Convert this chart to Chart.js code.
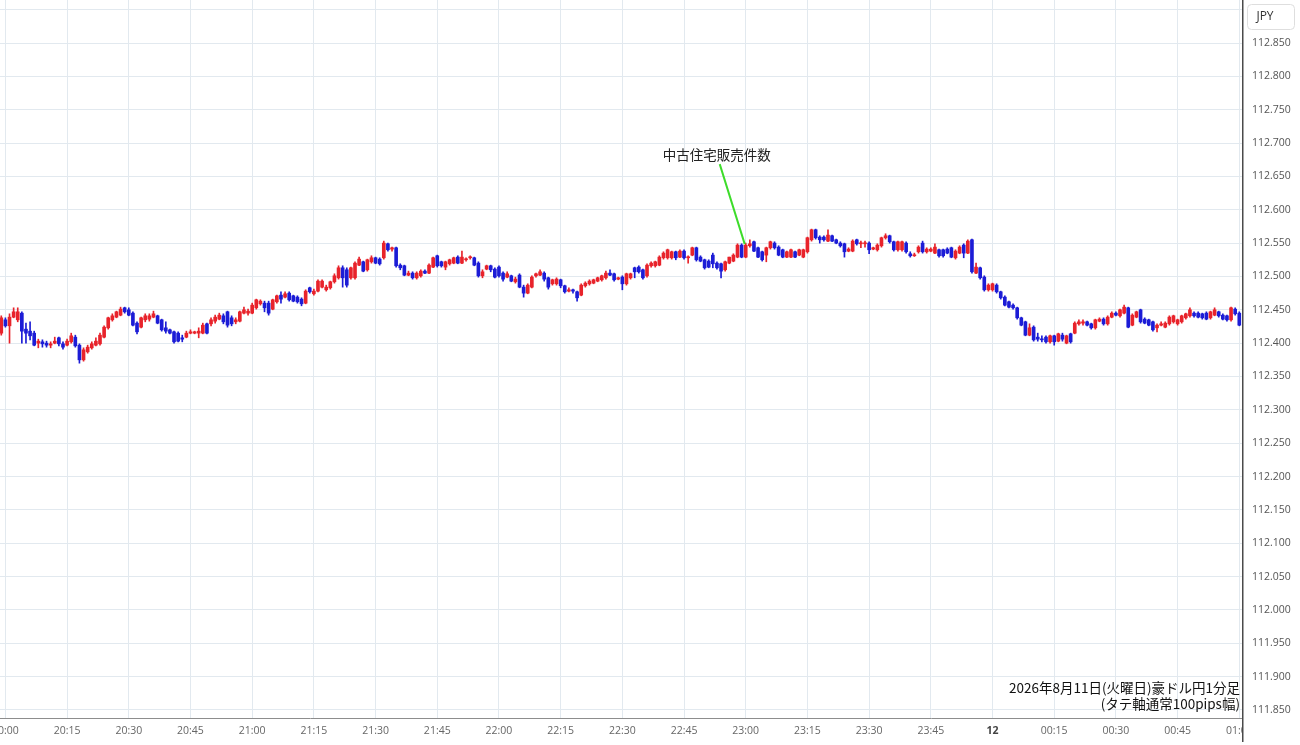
<!DOCTYPE html>
<html><head><meta charset="utf-8">
<script src="https://cdn.jsdelivr.net/npm/chart.js@4.4.0/dist/chart.umd.min.js"></script>
<style>html,body{margin:0;padding:0;background:#fff;overflow:hidden}#wrap{width:1300px;height:745px;position:relative}</style>
</head><body><div id="wrap"><canvas id="c" width="1300" height="745"></canvas></div>
<script>
const chartTitle = '2026年8月11日(火曜日)豪ドル円1分足';
const chartSubtitle = '(タテ軸通常100pips幅)';
const currencyLabel = 'JPY';
const eventLabel = '中古住宅販売件数';
const eventMinute = 180;      // 23:00
const firstMinute = -1;       // first candle = 19:59 (minutes from 20:00)

const timeTickMinutes = [0,15,30,45,60,75,90,105,120,135,150,165,180,195,210,225,240,255,270,285,300];
const timeTickLabels = ['20:00','20:15','20:30','20:45','21:00','21:15','21:30','21:45','22:00','22:15','22:30','22:45','23:00','23:15','23:30','23:45','12','00:15','00:30','00:45','01:00'];
const priceTicks = [112.900,112.850,112.800,112.750,112.700,112.650,112.600,112.550,112.500,112.450,112.400,112.350,112.300,112.250,112.200,112.150,112.100,112.050,112.000,111.950,111.900,111.850];

const openPrice = [
112.415,112.435,112.426,112.439,112.435,112.445,112.421,112.418,112.415,112.400,112.402,
112.400,112.397,112.400,112.408,112.399,112.397,112.402,112.409,112.397,112.375,
112.387,112.393,112.397,112.399,112.409,112.423,112.435,112.439,112.442,112.453,
112.450,112.445,112.430,112.424,112.435,112.436,112.439,112.441,112.435,112.423,
112.420,112.417,112.415,112.408,112.409,112.415,112.415,112.415,112.415,112.429,
112.429,112.433,112.436,112.441,112.447,112.438,112.432,112.433,112.445,112.445,
112.445,112.453,112.459,112.460,112.460,112.451,112.462,112.472,112.469,112.475,
112.471,112.469,112.466,112.460,112.483,112.474,112.478,112.484,112.480,112.483,
112.492,112.498,112.513,112.510,112.498,112.498,112.517,112.522,112.510,112.522,
112.528,112.526,112.528,112.549,112.541,112.543,112.517,112.516,112.502,112.505,
112.498,112.501,112.508,112.505,112.514,112.531,112.522,112.514,112.519,112.520,
112.529,112.520,112.525,112.528,112.528,112.520,112.501,112.511,112.516,112.511,
112.514,112.505,112.499,112.501,112.492,112.502,112.484,112.475,112.484,112.501,
112.502,112.505,112.498,112.489,112.489,112.495,112.486,112.478,112.480,112.477,
112.472,112.486,112.489,112.490,112.493,112.495,112.498,112.505,112.504,112.496,
112.499,112.489,112.498,112.513,112.514,112.510,112.501,112.516,112.516,112.517,
112.528,112.528,112.528,112.537,112.529,112.538,112.528,112.532,112.543,112.529,
112.525,112.523,112.532,112.520,112.519,112.510,112.520,112.523,112.529,112.547,
112.529,112.546,112.552,112.543,112.537,112.532,112.543,112.550,112.544,112.540,
112.529,112.529,112.537,112.532,112.529,112.537,112.555,112.570,112.559,112.559,
112.553,112.561,112.555,112.550,112.549,112.538,112.538,112.555,112.549,112.549,
112.550,112.541,112.540,112.546,112.558,112.561,112.552,112.540,112.540,112.550,
112.534,112.531,112.537,112.550,112.537,112.538,112.535,112.540,112.540,112.541,
112.543,112.528,112.535,112.547,112.535,112.555,112.505,112.513,112.499,112.480,
112.480,112.487,112.477,112.469,112.462,112.457,112.453,112.438,112.432,112.412,
112.424,112.409,112.406,112.409,112.402,112.411,112.403,112.412,112.400,112.414,
112.415,112.429,112.430,112.432,112.429,112.423,112.433,112.436,112.429,112.439,
112.445,112.441,112.445,112.453,112.427,112.439,112.450,112.436,112.435,112.432,
112.423,112.427,112.424,112.429,112.432,112.429,112.432,112.438,112.441,112.445,
112.445,112.444,112.445,112.438,112.442,112.447,112.442,112.441,112.435,112.451,
112.445];

const highPrice = [
112.441,112.438,112.444,112.453,112.453,112.447,112.430,112.432,112.418,112.406,112.405,
112.403,112.402,112.409,112.409,112.402,112.406,112.415,112.412,112.399,112.393,
112.397,112.402,112.408,112.415,112.426,112.439,112.444,112.448,112.454,112.454,
112.453,112.447,112.432,112.439,112.444,112.444,112.448,112.442,112.436,112.432,
112.421,112.418,112.417,112.412,112.418,112.420,112.418,112.423,112.430,112.430,
112.438,112.442,112.445,112.444,112.448,112.441,112.438,112.448,112.454,112.451,
112.460,112.466,112.465,112.463,112.463,112.466,112.472,112.477,112.477,112.477,
112.472,112.471,112.468,112.480,112.484,112.481,112.495,112.495,112.487,112.493,
112.504,112.516,112.516,112.513,112.514,112.522,112.529,112.523,112.526,112.531,
112.529,112.528,112.553,112.550,112.544,112.544,112.519,112.517,112.508,112.507,
112.507,112.510,112.510,112.519,112.529,112.532,112.523,112.523,112.526,112.529,
112.531,112.538,112.528,112.531,112.529,112.522,112.510,112.517,112.517,112.513,
112.516,112.507,112.507,112.502,112.499,112.504,112.487,112.489,112.501,112.505,
112.510,112.507,112.499,112.496,112.498,112.496,112.487,112.483,112.481,112.478,
112.489,112.492,112.495,112.496,112.499,112.502,112.508,112.510,112.505,112.499,
112.501,112.505,112.505,112.514,112.516,112.511,112.519,112.522,112.523,112.531,
112.537,112.541,112.538,112.538,112.540,112.540,112.531,112.544,112.544,112.531,
112.526,112.525,112.535,112.522,112.520,112.523,112.529,112.534,112.549,112.549,
112.550,112.555,112.553,112.544,112.538,112.544,112.553,112.552,112.546,112.541,
112.538,112.541,112.538,112.541,112.541,112.559,112.571,112.571,112.561,112.561,
112.570,112.562,112.556,112.552,112.550,112.543,112.555,112.556,112.553,112.553,
112.552,112.544,112.549,112.559,112.564,112.562,112.553,112.553,112.553,112.552,
112.537,112.535,112.546,112.553,112.543,112.543,112.549,112.541,112.541,112.543,
112.544,112.540,112.546,112.549,112.555,112.556,112.520,112.514,112.501,112.489,
112.490,112.489,112.478,112.471,112.463,112.459,112.454,112.439,112.433,112.429,
112.426,112.415,112.411,112.411,112.412,112.412,112.415,112.415,112.412,112.415,
112.432,112.435,112.435,112.433,112.430,112.436,112.438,112.438,112.441,112.447,
112.447,112.451,112.457,112.454,112.444,112.448,112.451,112.438,112.436,112.433,
112.429,112.432,112.432,112.441,112.442,112.436,112.442,112.445,112.453,112.447,
112.447,112.445,112.447,112.448,112.453,112.448,112.444,112.442,112.454,112.453,
112.447];

const lowPrice = [
112.412,112.424,112.400,112.438,112.432,112.400,112.400,112.405,112.396,112.393,112.394,
112.394,112.393,112.399,112.396,112.391,112.396,112.400,112.394,112.370,112.373,
112.385,112.391,112.396,112.397,112.408,112.421,112.433,112.438,112.441,112.445,
112.441,112.426,112.414,112.423,112.432,112.433,112.438,112.429,112.418,112.415,
112.414,112.400,112.402,112.402,112.408,112.414,112.414,112.408,112.414,112.414,
112.426,112.430,112.435,112.429,112.424,112.426,112.429,112.432,112.444,112.442,
112.444,112.451,112.457,112.447,112.442,112.450,112.460,112.460,112.468,112.463,
112.462,112.460,112.456,112.459,112.475,112.472,112.477,112.483,112.478,112.481,
112.490,112.496,112.484,112.484,112.496,112.496,112.516,112.507,112.508,112.520,
112.519,112.517,112.526,112.538,112.538,112.514,112.510,112.501,112.501,112.496,
112.496,112.499,112.504,112.504,112.513,112.514,112.514,112.510,112.517,112.519,
112.519,112.519,112.523,112.526,112.516,112.499,112.498,112.510,112.507,112.498,
112.499,112.493,112.498,112.492,112.490,112.483,112.469,112.474,112.483,112.499,
112.501,112.493,112.481,112.487,112.487,112.483,112.475,112.477,112.475,112.463,
112.471,112.484,112.487,112.489,112.492,112.493,112.496,112.501,112.493,112.495,
112.480,112.487,112.496,112.498,112.505,112.496,112.499,112.514,112.514,112.516,
112.526,112.526,112.526,112.525,112.528,112.526,112.520,112.531,112.523,112.522,
112.511,112.513,112.513,112.511,112.498,112.508,112.519,112.522,112.528,112.528,
112.528,112.544,112.537,112.528,112.523,112.522,112.541,112.541,112.531,112.528,
112.528,112.528,112.528,112.531,112.528,112.535,112.553,112.556,112.550,112.553,
112.552,112.552,112.549,112.544,112.529,112.537,112.537,112.547,112.543,112.544,
112.534,112.540,112.538,112.544,112.556,112.550,112.538,112.538,112.538,112.535,
112.529,112.530,112.535,112.535,112.535,112.537,112.534,112.529,112.529,112.534,
112.528,112.526,112.534,112.528,112.534,112.505,112.504,112.496,112.478,112.478,
112.478,112.475,112.466,112.456,112.453,112.451,112.436,112.426,112.411,112.411,
112.403,112.403,112.402,112.400,112.400,112.397,112.402,112.403,112.399,112.400,
112.414,112.427,112.427,112.426,112.421,112.421,112.432,112.427,112.427,112.438,
112.441,112.439,112.444,112.423,112.426,112.438,112.430,112.429,112.426,112.418,
112.417,112.426,112.423,112.427,112.430,112.427,112.430,112.436,112.439,112.439,
112.438,112.436,112.435,112.436,112.441,112.439,112.435,112.433,112.433,112.442,
112.426];

const closePrice = [
112.438,112.426,112.439,112.447,112.447,112.418,112.415,112.411,112.397,112.403,112.399,
112.397,112.399,112.403,112.399,112.394,112.403,112.411,112.396,112.375,112.390,
112.394,112.399,112.403,112.412,112.424,112.438,112.441,112.447,112.451,112.447,
112.442,112.427,112.417,112.438,112.441,112.441,112.444,112.430,112.420,112.418,
112.415,112.402,112.403,112.406,112.415,112.417,112.417,112.418,112.427,112.415,
112.435,112.439,112.442,112.432,112.427,112.429,112.435,112.447,112.450,112.448,
112.457,112.465,112.463,112.453,112.445,112.465,112.471,112.466,112.474,112.465,
112.463,112.462,112.459,112.478,112.477,112.478,112.493,112.493,112.484,112.492,
112.501,112.513,112.498,112.487,112.513,112.520,112.526,112.508,112.525,112.528,
112.520,112.519,112.550,112.540,112.543,112.516,112.513,112.502,112.505,112.498,
112.505,112.508,112.505,112.517,112.528,112.516,112.516,112.522,112.525,112.528,
112.520,112.529,112.526,112.529,112.517,112.501,112.507,112.516,112.510,112.499,
112.501,112.496,112.504,112.493,112.496,112.484,112.475,112.487,112.499,112.504,
112.507,112.496,112.484,112.495,112.496,112.486,112.477,112.480,112.478,112.468,
112.487,112.490,112.493,112.495,112.498,112.501,112.505,112.502,112.495,112.498,
112.489,112.504,112.504,112.507,112.507,112.498,112.517,112.520,112.522,112.529,
112.535,112.540,112.537,112.528,112.538,112.528,112.529,112.543,112.525,112.523,
112.513,112.514,112.519,112.513,112.508,112.522,112.529,112.532,112.547,112.529,
112.547,112.549,112.538,112.529,112.525,112.543,112.552,112.543,112.532,112.529,
112.537,112.540,112.529,112.540,112.540,112.558,112.570,112.558,112.555,112.555,
112.562,112.553,112.550,112.546,112.537,112.541,112.553,112.549,112.550,112.550,
112.540,112.543,112.547,112.558,112.561,112.552,112.540,112.552,112.552,112.537,
112.531,112.532,112.544,112.537,112.541,112.541,112.544,112.531,112.531,112.535,
112.529,112.538,112.544,112.535,112.553,112.507,112.514,112.498,112.480,112.487,
112.489,112.477,112.468,112.457,112.454,112.453,112.438,112.427,112.412,112.423,
112.405,112.406,112.405,112.402,112.411,112.402,112.414,112.406,112.411,112.402,
112.430,112.432,112.432,112.427,112.423,112.435,112.436,112.429,112.439,112.445,
112.442,112.450,112.454,112.424,112.442,112.447,112.432,112.430,112.427,112.420,
112.427,112.429,112.430,112.439,112.441,112.435,112.441,112.444,112.450,112.441,
112.439,112.438,112.436,112.447,112.450,112.441,112.436,112.435,112.453,112.444,
112.427];

const UP = '#e8232b', DOWN = '#1c1cd6';
const GRID = '#e2e9ef';
const FONT = '"Open Sans", "Liberation Sans", sans-serif';
const CJK = '"Noto Sans CJK JP", "Noto Sans", sans-serif';

const candleColor = openPrice.map((o, i) => closePrice[i] >= o ? UP : DOWN);
const bodyData = openPrice.map((o, i) => ({x: i + firstMinute, y: [o, closePrice[i]]}));
const wickData = lowPrice.map((l, i) => ({x: i + firstMinute, y: [l, highPrice[i]]}));

const overlay = {
  id: 'overlay',
  afterDatasetsDraw(chart) {
    const {ctx, scales: {x, y}} = chart;
    const idx = eventMinute - firstMinute;
    const px = x.getPixelForValue(eventMinute);
    const py = y.getPixelForValue(highPrice[idx]);
    ctx.save();
    ctx.strokeStyle = '#3ddc2a';
    ctx.lineWidth = 2;
    ctx.beginPath();
    ctx.moveTo(px - 26, py - 79);
    ctx.lineTo(px - 1, py + 1);
    ctx.stroke();
    ctx.font = '13.5px ' + CJK;
    ctx.fillStyle = '#222';
    ctx.textAlign = 'center';
    ctx.textBaseline = 'middle';
    ctx.fillText(eventLabel, px - 29, py - 88);
    ctx.restore();
  },
  afterDraw(chart) {
    const {ctx, chartArea: a, scales: {x, y}} = chart;
    ctx.save();
    // time labels
    ctx.textAlign = 'center';
    ctx.textBaseline = 'middle';
    timeTickMinutes.forEach((m, i) => {
      const bold = timeTickLabels[i] === '12';
      ctx.font = (bold ? 'bold ' : '') + '10.5px ' + FONT;
      ctx.fillStyle = bold ? '#444' : '#666';
      ctx.fillText(timeTickLabels[i], x.getPixelForValue(m), a.bottom + 13);
    });
    // blank the area under the price axis (clips last time label)
    ctx.fillStyle = '#fff';
    ctx.fillRect(a.right + 1, a.bottom + 1, chart.width - a.right, chart.height - a.bottom);
    // price labels
    ctx.textAlign = 'left';
    ctx.font = '10.5px ' + FONT;
    ctx.fillStyle = '#555';
    priceTicks.forEach(v => {
      if (v > 112.875) return;
      ctx.fillText(v.toFixed(3), a.right + 10, y.getPixelForValue(v));
    });
    // bottom axis line
    ctx.strokeStyle = '#8d8d8d';
    ctx.lineWidth = 1;
    ctx.beginPath();
    ctx.moveTo(0, a.bottom + 0.5);
    ctx.lineTo(a.right, a.bottom + 0.5);
    ctx.stroke();
    // right axis line
    ctx.strokeStyle = '#4a4a4a';
    ctx.lineWidth = 1.5;
    ctx.beginPath();
    ctx.moveTo(a.right + 0.75, 0);
    ctx.lineTo(a.right + 0.75, chart.height - 3);
    ctx.stroke();
    // currency box
    ctx.fillStyle = '#fff';
    ctx.strokeStyle = '#dedede';
    ctx.lineWidth = 1;
    ctx.beginPath();
    ctx.roundRect(a.right + 5.5, 4.5, 47, 25, 4);
    ctx.fill();
    ctx.stroke();
    ctx.fillStyle = '#333';
    ctx.font = '12px ' + FONT;
    ctx.textAlign = 'center';
    ctx.fillText(currencyLabel, a.right + 23, 17);
    // chart caption
    ctx.fillStyle = '#111';
    ctx.font = '13.5px ' + CJK;
    ctx.textAlign = 'right';
    ctx.fillText(chartTitle, a.right - 2, a.bottom - 30);
    ctx.fillText(chartSubtitle, a.right - 2, a.bottom - 14);
    ctx.restore();
  }
};

new Chart(document.getElementById('c'), {
  type: 'bar',
  data: {
    datasets: [
      {data: bodyData, backgroundColor: candleColor, barThickness: 3, minBarLength: 1, grouped: false, borderWidth: 0, borderSkipped: false},
      {data: wickData, backgroundColor: candleColor, barThickness: 1, grouped: false, borderWidth: 0, borderSkipped: false}
    ]
  },
  options: {
    responsive: false,
    animation: false,
    events: [],
    layout: {padding: 0, autoPadding: false},
    plugins: {legend: {display: false}, tooltip: {enabled: false}, title: {display: false}},
    scales: {
      x: {
        type: 'linear', min: -1.313, max: 300.66, offset: false,
        grid: {color: GRID, drawTicks: false, tickLength: 0, offset: false},
        border: {display: false},
        ticks: {display: false, autoSkip: false, maxRotation: 0},
        afterBuildTicks: (s) => { s.ticks = timeTickMinutes.map(v => ({value: v})); },
        afterFit: (s) => { s.height = 27; }
      },
      y: {
        position: 'right', min: 111.838, max: 112.9145,
        grid: {color: GRID, drawTicks: false, tickLength: 0},
        border: {display: false},
        ticks: {display: false},
        afterBuildTicks: (s) => { s.ticks = priceTicks.map(v => ({value: v})); },
        afterFit: (s) => { s.width = 58; }
      }
    }
  },
  plugins: [overlay]
});
</script>
</body></html>
